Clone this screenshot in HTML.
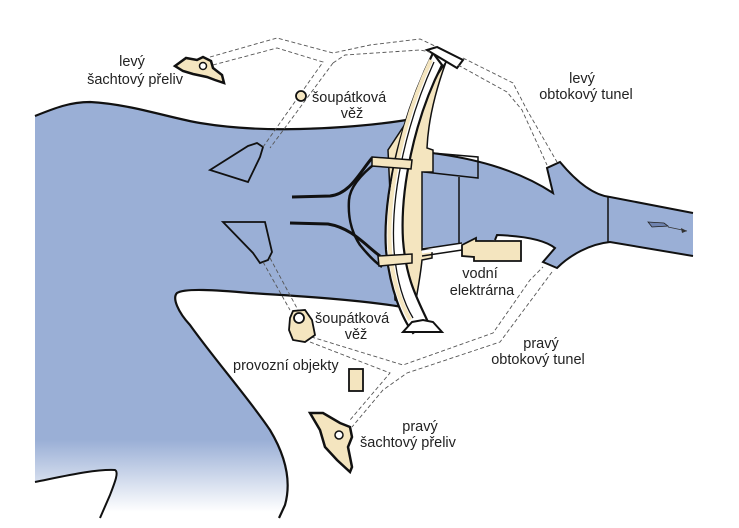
<!DOCTYPE html>
<html><head><meta charset="utf-8"><style>
html,body{margin:0;padding:0;background:#fff;}
svg{display:block;}
text{font-family:"Liberation Sans",sans-serif;font-size:14.5px;fill:#222;}
</style></head><body>
<svg width="739" height="528" viewBox="0 0 739 528" xmlns="http://www.w3.org/2000/svg">
<defs>
<linearGradient id="wg" gradientUnits="userSpaceOnUse" x1="0" y1="440" x2="0" y2="512">
<stop offset="0" stop-color="#9aafd6"/><stop offset="1" stop-color="#ffffff"/>
</linearGradient>
</defs>
<rect width="739" height="528" fill="#fff"/>
<!-- main water -->
<path d="M35,116 C55,108 70,102 90,102 C130,104 170,118 200,123 C230,128 260,130 300,129 C340,128 380,125 418,118 C405,150 392,200 390,250 C392,280 398,298 403,307 C360,300 300,296 250,293 C215,290 185,288 177,293 C172,298 178,312 190,325 C215,360 250,400 270,430 C285,455 292,480 285,510 L278,520 L35,520 Z" fill="url(#wg)"/>
<path d="M35,116 C55,108 70,102 90,102 C130,104 170,118 200,123 C230,128 260,130 300,129 C340,128 380,125 418,118" fill="none" stroke="#111" stroke-width="2.2"/>
<path d="M403,307 C360,300 300,296 250,293 C215,290 185,288 177,293 C172,298 178,312 190,325 C215,360 250,400 270,430 C285,455 292,480 285,505 L279,518" fill="none" stroke="#111" stroke-width="2.2"/>
<!-- bottom-left white cut -->
<path d="M35,482 C65,476 95,469 115,470 C119,472 115,482 110,495 L100,518 L35,518 Z" fill="#fff"/>
<path d="M35,482 C65,476 95,469 115,470 C119,472 115,482 110,495 L100,518" fill="none" stroke="#111" stroke-width="2"/>
<!-- right river -->
<path d="M420,150 L432,153 C470,158 515,168 553,193 L547,168 L560,162 C575,180 592,195 610,197 L693,213 L693,256 L610,242 C590,244 570,255 557,268 L543,262 L555,248 C545,240 525,236 497,235 L495,240 L420,248 Z" fill="#9aafd6"/>
<path d="M432,153 C470,158 515,168 553,193 L547,168 L560,162 C575,180 592,195 610,197 L693,213" fill="none" stroke="#111" stroke-width="2"/>
<path d="M693,256 L610,242 C590,244 570,255 557,268 L543,262 L555,248 C545,240 525,236 497,235 L495,240" fill="none" stroke="#111" stroke-width="2"/>
<line x1="608" y1="197" x2="608" y2="243" stroke="#111" stroke-width="1.5"/>
<line x1="459" y1="177" x2="459" y2="243" stroke="#111" stroke-width="1.5"/>
<path d="M432,153 L478,157 L478,178 L424,172" fill="none" stroke="#111" stroke-width="1.5"/>
<!-- boat -->
<path d="M648,222 L664,223 L668,226 L652,227 Z" fill="#6f83b0" stroke="#222" stroke-width="0.8"/>
<line x1="668" y1="227" x2="687" y2="231" stroke="#333" stroke-width="0.8"/><path d="M687,231 L681,228 L682,233 Z" fill="#333"/>
<!-- tan dam body -->
<path d="M446,62 C434,95 428,125 427,148 L433,150 L433,172 L422,172 L422,250 L432,250 L432,258 L422,260 C420,280 416,298 414,312 L395,300 L388,150 Z" fill="#f4e5bf" stroke="#111" stroke-width="1.5"/>
<!-- arch -->
<path d="M433,53 C405,110 382,190 386,250 C390,290 402,318 413,333 L428,322 C418,300 406,280 403,240 C400,190 414,120 442,65 Z" fill="#fff" stroke="#111" stroke-width="2.2"/>
<path d="M431,60 C405,115 386,190 390,250 C393,285 402,305 410,320" fill="none" stroke="#f4e5bf" stroke-width="4"/>
<path d="M434,62 C409,117 390,190 394,250 C397,285 405,305 413,318" fill="none" stroke="#111" stroke-width="1.3"/>
<path d="M427,50 L437,47 L463,60 L457,68 Z" fill="#fff" stroke="#111" stroke-width="2"/>
<path d="M412,322 L423,320 L433,322 L442,332 L403,332 Z" fill="#fff" stroke="#111" stroke-width="2"/>
<!-- guide walls -->
<path d="M292,197 L330,196 C350,194 360,172 372,158" fill="none" stroke="#111" stroke-width="3"/>
<path d="M290,223 L328,224 C352,228 365,245 380,256" fill="none" stroke="#111" stroke-width="3"/>
<path d="M377,162 C360,175 350,188 349,200 C348,215 350,230 360,245 C368,255 375,262 382,267" fill="none" stroke="#111" stroke-width="2.5"/>
<!-- gate bars -->
<path d="M372,157 L412,160 L411,169 L372,166 Z" fill="#f4e5bf" stroke="#111" stroke-width="1.5"/>
<path d="M378,256 L412,254 L412,263 L379,266 Z" fill="#f4e5bf" stroke="#111" stroke-width="1.5"/>
<!-- pipes & power station -->
<path d="M422,249 L462,243 M422,256 L462,250" stroke="#111" stroke-width="1.5" fill="none"/>
<path d="M422,252 L462,246.5" stroke="#fff" stroke-width="3"/>
<path d="M462,245 L476,238 L476,241 L521,241 L521,261 L474,261 L474,257 L462,256 Z" fill="#f4e5bf" stroke="#111" stroke-width="1.8"/>
<!-- intake structures -->
<path d="M210,170 L248,146 L257,143 L263,147 L260,157 L248,182 Z" fill="none" stroke="#111" stroke-width="1.8"/>
<path d="M223,222 L265,222 L272,252 L268,260 L260,263 L253,253 Z" fill="none" stroke="#111" stroke-width="1.8"/>
<!-- tunnels (dashed) -->
<g fill="none" stroke="#555" stroke-width="0.9" stroke-dasharray="4,2.5">
<path d="M210,57 L277,38 L333,53 L370,45 L420,39 L437,47"/>
<path d="M213,65 L277,48 L323,62 L263,147"/>
<path d="M333,63 L345,55 L420,50 L430,52"/>
<path d="M333,63 L270,148"/>
<path d="M463,58 L513,83 L527,110 L557,162"/>
<path d="M458,65 L507,92 L522,110 L547,165"/>
<path d="M263,262 L290,310"/>
<path d="M270,258 L298,310"/>
<path d="M305,335 L403,365 L493,333 L530,280 L543,267"/>
<path d="M310,342 L390,373 L350,420"/>
<path d="M552,272 L500,342 L407,373 L383,390 L352,427"/>
</g>
<!-- towers -->
<circle cx="301" cy="96" r="5" fill="#f4e5bf" stroke="#111" stroke-width="1.8"/>
<path d="M290,318 L293,311 L305,310 L312,320 L315,335 L305,342 L293,340 L289,330 Z" fill="#f4e5bf" stroke="#111" stroke-width="1.8"/>
<circle cx="299" cy="318" r="5" fill="#fff" stroke="#111" stroke-width="1.8"/>
<rect x="349" y="369" width="14" height="22" fill="#f4e5bf" stroke="#111" stroke-width="1.8"/>
<!-- spillways -->
<path d="M175,66 L186,58 L197,60 L203,57 L211,61 L213,68 L222,75 L224,83 L215,80 L207,77 L193,74 L183,71 Z" fill="#f4e5bf" stroke="#111" stroke-width="2.5"/>
<circle cx="203" cy="66" r="3.5" fill="#fff" stroke="#111" stroke-width="1.5"/>
<path d="M310,413 L323,413 L340,423 L350,427 L352,437 L348,447 L352,467 L350,472 L337,460 L325,447 L320,430 Z" fill="#f4e5bf" stroke="#111" stroke-width="2.5"/>
<circle cx="339" cy="435" r="4" fill="#fff" stroke="#111" stroke-width="1.5"/>
<!-- labels -->
<text x="132" y="66" text-anchor="middle">levý</text>
<text x="183" y="84" text-anchor="end">šachtový přeliv</text>
<text x="312" y="102">šoupátková</text>
<text x="352" y="118" text-anchor="middle">věž</text>
<text x="582" y="83" text-anchor="middle">levý</text>
<text x="586" y="99" text-anchor="middle">obtokový tunel</text>
<text x="480" y="278" text-anchor="middle">vodní</text>
<text x="482" y="295" text-anchor="middle">elektrárna</text>
<text x="315" y="323">šoupátková</text>
<text x="356" y="339" text-anchor="middle">věž</text>
<text x="541" y="348" text-anchor="middle">pravý</text>
<text x="538" y="364" text-anchor="middle">obtokový tunel</text>
<text x="233" y="370">provozní objekty</text>
<text x="420" y="431" text-anchor="middle">pravý</text>
<text x="360" y="447">šachtový přeliv</text>
</svg>
</body></html>
